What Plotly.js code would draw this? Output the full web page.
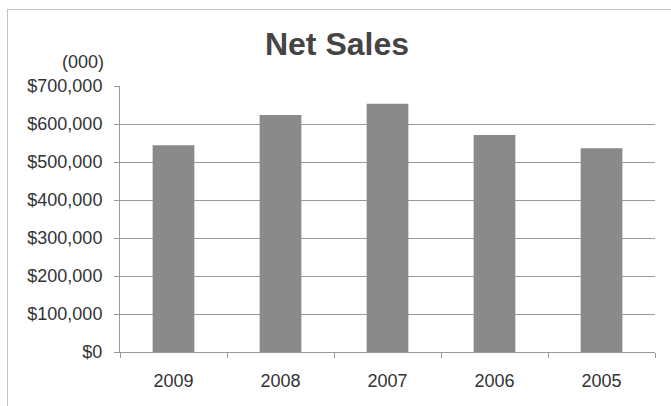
<!DOCTYPE html>
<html><head><meta charset="utf-8">
<script src="https://cdn.plot.ly/plotly-3.0.1.min.js"></script>
<style>body{margin:0;background:#fff}#frame{position:absolute;left:7px;top:9px;width:664px;height:397px;border-top:1px solid #c4c4c4;border-left:1px solid #c4c4c4;box-sizing:border-box;pointer-events:none}</style>
</head><body>
<div id="chart" style="width:671px;height:406px"></div>
<div id="frame"></div>
<script>
const years = ["2009", "2008", "2007", "2006", "2005"];
const netSales = [544000, 624000, 653000, 571000, 536000];
const yTicks = [0, 100000, 200000, 300000, 400000, 500000, 600000, 700000];
const yTickLabels = ["$0", "$100,000", "$200,000", "$300,000", "$400,000", "$500,000", "$600,000", "$700,000"];

Plotly.newPlot("chart", [{
  type: "bar", x: years, y: netSales,
  marker: {color: "#8a8a8a", line: {width: 0}},
  hoverinfo: "skip"
}], {
  width: 671, height: 406,
  margin: {l: 120, r: 16, t: 86, b: 54},
  paper_bgcolor: "rgba(0,0,0,0)", plot_bgcolor: "rgba(0,0,0,0)",
  bargap: 0.61,
  font: {family: "Liberation Sans, Arial, sans-serif", size: 18, color: "#333"},
  title: {text: "<b>Net Sales</b>", font: {size: 32, color: "#444"}, x: 337/671, xanchor: "center", y: 1 - 44/406, yanchor: "middle"},
  xaxis: {type: "category", showgrid: false, showline: true, linecolor: "#999", linewidth: 1,
    ticks: "outside", tickson: "boundaries", ticklen: 5, tickcolor: "#999",
    ticklabelstandoff: 12,
    tickfont: {size: 18, color: "#333"}, zeroline: false},
  yaxis: {range: [0, 700000], tickvals: yTicks, ticktext: yTickLabels,
    showgrid: true, gridcolor: "#9a9a9a", gridwidth: 1, showline: true, linecolor: "#999",
    ticks: "outside", ticklen: 5, tickcolor: "#999", zeroline: false,
    ticklabelstandoff: 8,
    tickfont: {size: 18, color: "#333"}},
  annotations: [{text: "(000)", xref: "paper", yref: "paper", x: -14/535, y: 1 + 24/266,
    xanchor: "right", yanchor: "middle", showarrow: false, font: {size: 18, color: "#333"}}],
  showlegend: false
}, {displayModeBar: false, staticPlot: true});
</script>
</body></html>
